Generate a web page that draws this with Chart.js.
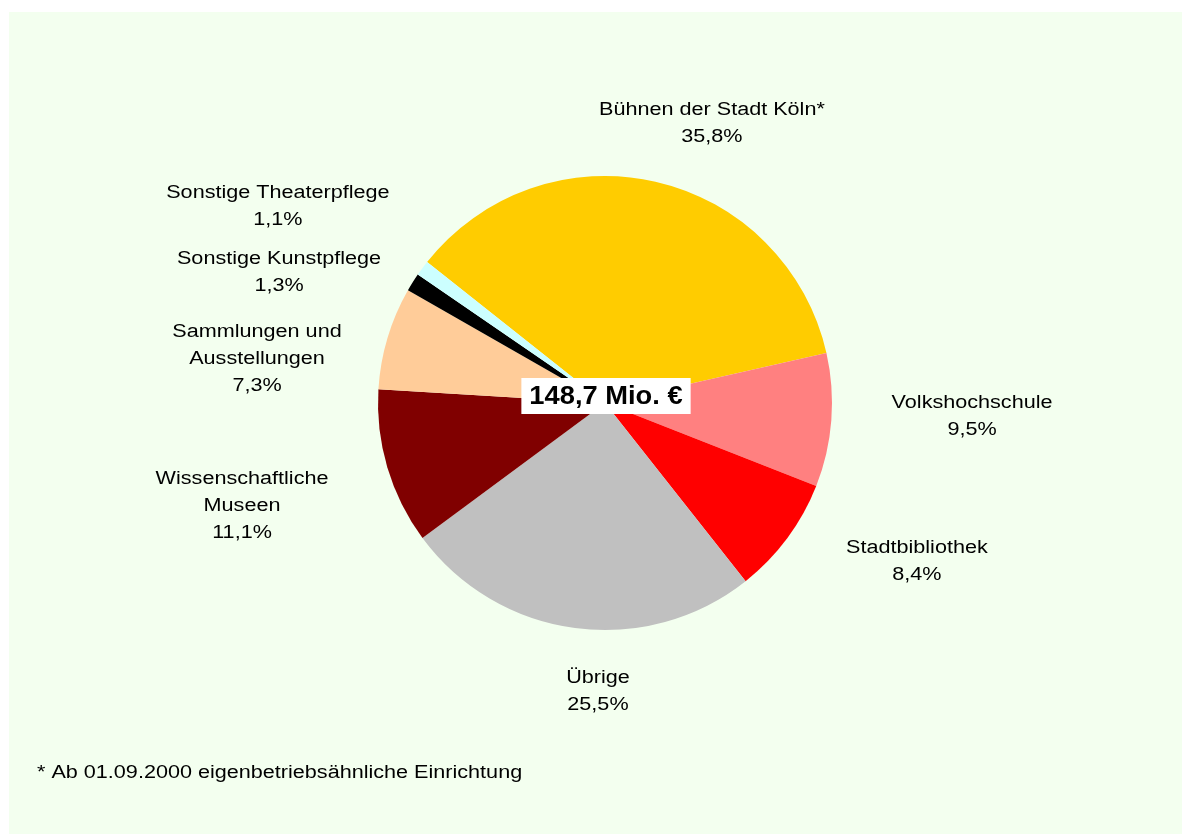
<!DOCTYPE html>
<html lang="de">
<head>
<meta charset="utf-8">
<title>Kulturausgaben Köln</title>
<script src="https://cdn.jsdelivr.net/npm/chart.js@4/dist/chart.umd.min.js"></script>
<style>
    html, body { margin: 0; padding: 0; background: #ffffff; }
    #rahmen {
        position: absolute;
        left: 9px;
        top: 12px;
        width: 1173px;
        height: 822px;
        background: #f3ffef;
    }
    #kulturChart { display: block; }
</style>
</head>
<body>
<div id="rahmen">
    <canvas id="kulturChart" width="1173" height="822"></canvas>
</div>
<script>
    // Anteile der Kulturausgaben (in %), Reihenfolge im Uhrzeigersinn ab Bühnen
    const bereiche = [
        ["Bühnen der Stadt Köln*"],
        ["Volkshochschule"],
        ["Stadtbibliothek"],
        ["Übrige"],
        ["Wissenschaftliche", "Museen"],
        ["Sammlungen und", "Ausstellungen"],
        ["Sonstige Kunstpflege"],
        ["Sonstige Theaterpflege"]
    ];
    const anteile = [35.8, 9.5, 8.4, 25.5, 11.1, 7.3, 1.3, 1.1];
    const farben = ["#ffcc00", "#ff8080", "#ff0000", "#c0c0c0", "#800000", "#ffcc99", "#000000", "#ccffff"];
    const gesamt = "148,7 Mio. €";
    const fussnote = "* Ab 01.09.2000 eigenbetriebsähnliche Einrichtung";

    // Lage der Beschriftungen relativ zum Kreismittelpunkt, in Vielfachen des Radius
    const labelLage = [
        [0.471, -1.231],
        [1.617, 0.059],
        [1.374, 0.698],
        [-0.031, 1.269],
        [-1.599, 0.454],
        [-1.533, -0.194],
        [-1.436, -0.575],
        [-1.441, -0.866]
    ];

    const schrift = '"Liberation Sans", Arial, sans-serif';

    // Text mit etwas breiterer Laufweite zeichnen (horizontal gestreckt)
    function text(ctx, t, x, y, breite) {
        ctx.save();
        ctx.translate(x, y);
        ctx.scale(breite, 1);
        ctx.fillText(t, 0, 0);
        ctx.restore();
    }

    const beschriftung = {
        id: 'beschriftung',
        afterDatasetsDraw(chart) {
            const ctx = chart.ctx;
            const meta = chart.getDatasetMeta(0);
            const bogen = meta.data[0];
            const cx = bogen.x, cy = bogen.y, r = bogen.outerRadius;

            ctx.save();
            ctx.fillStyle = '#000000';
            ctx.textAlign = 'center';
            ctx.textBaseline = 'middle';
            ctx.font = '18px ' + schrift;
            const zeile = 27;

            bereiche.forEach(function(namen, i) {
                const wert = chart.data.datasets[0].data[i];
                const zeilen = namen.concat([wert.toFixed(1).replace('.', ',') + '%']);
                const mx = cx + labelLage[i][0] * r;
                const my = cy + labelLage[i][1] * r;
                const start = my - (zeilen.length - 1) * zeile / 2;
                zeilen.forEach(function(t, k) {
                    text(ctx, t, mx, start + k * zeile, 1.2);
                });
            });

            // Gesamtsumme in der Mitte
            ctx.font = 'bold 26px ' + schrift;
            const b = ctx.measureText(gesamt).width * 1.05;
            const tx = cx + 1, ty = cy - 7;
            ctx.fillStyle = '#ffffff';
            ctx.fillRect(tx - b / 2 - 8, ty - 18, b + 16, 36);
            ctx.fillStyle = '#000000';
            text(ctx, gesamt, tx, ty + 1, 1.05);

            // Fußnote
            ctx.font = '18px ' + schrift;
            ctx.textAlign = 'left';
            text(ctx, fussnote, 28, 761, 1.2);
            ctx.restore();
        }
    };

    const config = {
        type: 'pie',
        data: {
            labels: bereiche.map(function(n) { return n.join(' '); }),
            datasets: [{
                data: anteile,
                backgroundColor: farben,
                borderWidth: 0,
                hoverOffset: 0
            }]
        },
        options: {
            responsive: false,
            animation: false,
            rotation: -51.6,
            layout: {
                padding: { left: 369, top: 164, right: 350, bottom: 204 }
            },
            plugins: {
                legend: { display: false },
                tooltip: { enabled: false }
            }
        },
        plugins: [beschriftung]
    };

    const ctx = document.getElementById('kulturChart').getContext('2d');
    const chart = new Chart(ctx, config);
</script>
</body>
</html>
